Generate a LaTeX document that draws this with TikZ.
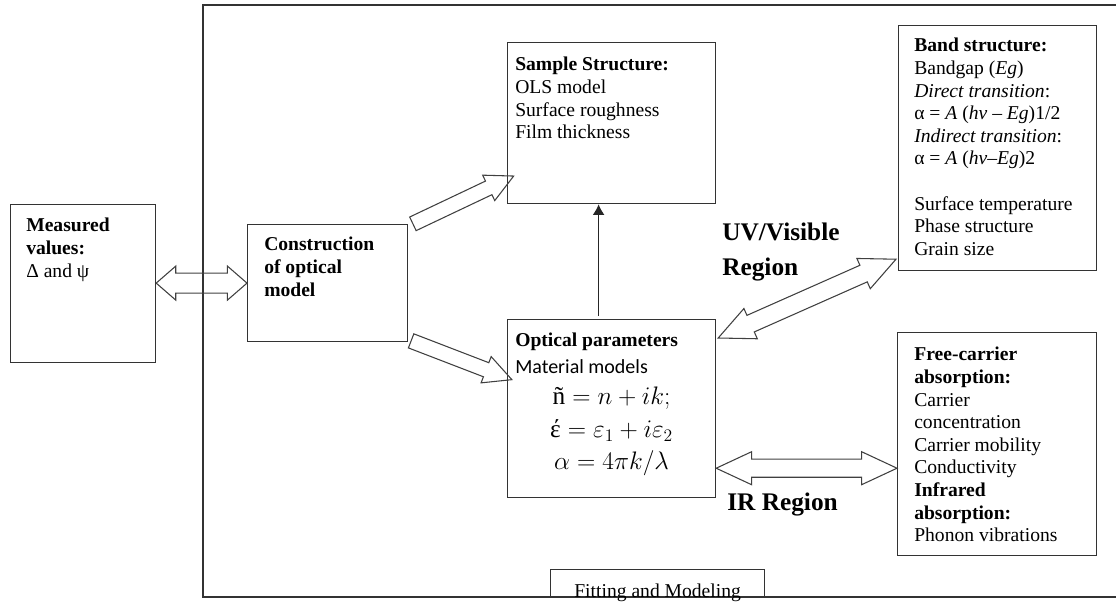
\documentclass[tikz,border=0pt]{standalone}
\usepackage{fontspec}
\setmainfont{Liberation Serif}
\newfontfamily\calibri{Carlito}
\usetikzlibrary{calc,shapes.arrows,arrows.meta}

\tikzset{
  panel/.style={draw=black!80, line width=0.9pt, anchor=north west, inner sep=0pt},
  txt/.style={anchor=north west, align=left, inner xsep=12pt, inner ysep=9.75pt,
    font=\fontsize{14.7}{16.95}\selectfont},
  mathtxt/.style={anchor=north, align=center, inner sep=0pt, yshift=-51pt,
    font=\fontsize{17.28}{24.3}\selectfont},
  region/.style={anchor=north west, align=left, inner sep=0pt,
    font=\fontsize{19}{26}\selectfont\bfseries},
  fat/.style={draw=black!75, line width=0.8pt, inner xsep=0pt, inner ysep=5.25pt,
    single arrow, single arrow head extend=4.9pt, single arrow tip angle=54},
  fatboth/.style={draw=black!75, line width=0.8pt, inner xsep=0pt, inner ysep=6.4pt,
    double arrow, double arrow head extend=5.6pt, double arrow tip angle=50},
}

% fat arrow between two named points
\newcommand{\fatarrow}[4][fat]{%
  \path let \p1=($(#3)-(#2)$), \n1={atan2(\y1,\x1)}, \n2={veclen(\x1,\y1)} in
    node[#1, minimum height=\n2, rotate=\n1] (#4) at ($(#2)!0.5!(#3)$) {};}
\newcommand{\eqline}[1]{\scalebox{1.1}{$#1$}}

\begin{document}
\begin{tikzpicture}[x=0.75pt, y=-0.75pt]
  \useasboundingbox (0,0) rectangle (1116,601);
  \clip (0,0) rectangle (1116,601);
  % outer frame
  \draw[draw=black!80, line width=1pt] (1130,5) -- (203,5) -- (203,597) -- (1130,597);

  % boxes
  \node[panel, minimum width=108.75pt, minimum height=118.5pt,
    label={[txt, inner ysep=10.5pt]north west:{\textbf{Measured}\\\textbf{values:}\\Δ and ψ}}] (meas) at (10,204) {};
  \node[panel, minimum width=120pt, minimum height=87.75pt,
    label={[txt, inner xsep=12.75pt]north west:{\textbf{Construction}\\\textbf{of optical}\\\textbf{model}}}] (cons) at (247,224) {};
  \node[panel, minimum width=156pt, minimum height=120.75pt,
    label={[txt, inner xsep=6pt, inner ysep=11.25pt]north west:{\textbf{Sample Structure:}\\OLS model\\Surface roughness\\Film thickness}}] (samp) at (507,42) {};
  \node[panel, minimum width=156pt, minimum height=133.5pt,
    label={[txt, inner xsep=6pt, inner ysep=10.5pt]north west:{\textbf{Optical parameters}\\[3pt]{\calibri\fontsize{15}{18}\selectfont Material models}}},
    label={[mathtxt]north:{\eqline{\mbox{ñ} = n+ik;}\\\eqline{\mbox{έ} = \varepsilon_1+i\varepsilon_2}\\\eqline{\alpha = 4\pi k/\lambda}}}] (opt) at (507,319) {};
  \node[panel, minimum width=148.5pt, minimum height=183.75pt,
    label={[txt]north west:{\textbf{Band structure:}\\Bandgap (\textit{Eg})\\\textit{Direct transition}:\\α = \textit{A} (\textit{hv} – \textit{Eg})1/2\\\textit{Indirect transition}:\\α = \textit{A} (\textit{hv}–\textit{Eg})2\\[16.95pt]Surface temperature\\Phase structure\\Grain size}}] (band) at (898,25) {};
  \node[panel, minimum width=149.25pt, minimum height=167.25pt,
    label={[txt, inner xsep=12.75pt, inner ysep=11.25pt]north west:{\textbf{Free-carrier}\\\textbf{absorption:}\\Carrier\\concentration\\Carrier mobility\\Conductivity\\\textbf{Infrared}\\\textbf{absorption:}\\Phonon vibrations}}] (free) at (897,332) {};
  \node[panel, minimum width=160.5pt, minimum height=21pt,
    label={[txt, anchor=north, inner ysep=11pt]north:{Fitting and Modeling}}] (fit) at (550,569) {};

  % region labels
  \node[region] (uvtext) at (722,222.5) {UV/Visible\\Region};
  \node[region] (irtext) at (727,492.5) {IR Region};

  % arrow ends
  \coordinate (c1) at ($(cons.north east)+(-2,3)$);
  \coordinate (s1) at ($(samp.south west)+(0,-25)$);
  \coordinate (c2) at ($(cons.south east)+(-4,-4)$);
  \coordinate (o1) at ($(opt.north west)+(-2,58)$);
  \coordinate (o2) at ($(opt.north east)+(2,19)$);
  \coordinate (b1) at ($(band.south west)+(-2,-12)$);
  \coordinate (o3) at ($(opt.south east)+(0,-30)$);
  \coordinate (f1) at (o3 -| free.west);
  \coordinate (m1) at (meas.east |- cons.west);
  \coordinate (o4) at ($(opt.north)+(-13,-3)$);

  \fatarrow[fatboth, inner ysep=7.1pt, double arrow head extend=5.25pt, double arrow tip angle=82]{m1}{cons.west}{measarrow}
  \fatarrow{c1}{s1}{samparrow}
  \fatarrow{c2}{o1}{optarrow}
  \fatarrow[fatboth]{o2}{b1}{uvarrow}
  \fatarrow[fatboth]{o3}{f1}{irarrow}
  \draw[draw=black!85, line width=1.3pt, -{Latex[length=8pt, width=9pt]}] (o4) -- (o4 |- samp.south);
\end{tikzpicture}
\end{document}
